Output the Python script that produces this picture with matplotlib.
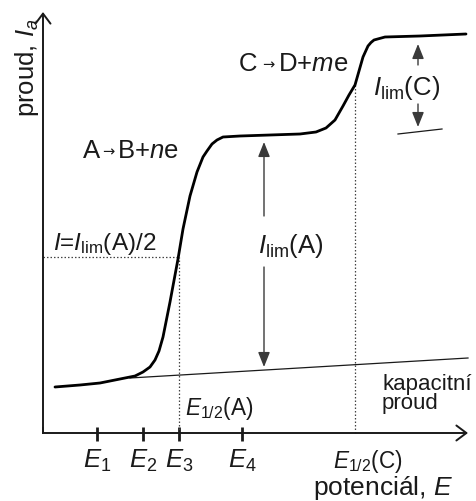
import matplotlib
matplotlib.use("Agg")
import matplotlib.pyplot as plt

plt.rcParams['font.family'] = ['Liberation Sans', 'DejaVu Sans']
plt.rcParams['mathtext.fontset'] = 'custom'
plt.rcParams['mathtext.rm'] = 'Liberation Sans'
plt.rcParams['mathtext.it'] = 'Liberation Sans:italic'
plt.rcParams['mathtext.bf'] = 'Liberation Sans:bold'

# ---- data (potential E, current I; arbitrary units) ----
curve_E = [1.2, 3.7, 5.7, 7.7, 9.2, 10.0, 10.7, 11.2, 11.6, 12.0, 12.4, 12.7,
           13.5, 14.0, 14.7, 15.4, 16.0, 16.4, 16.9, 17.4, 18.0, 19.7, 22.7,
           25.7, 27.3, 28.3, 29.2, 30.0, 30.6, 31.2, 31.6, 32.0, 32.5, 32.8,
           33.1, 34.2, 37.7, 42.3]
curve_I = [4.6, 4.8, 5.0, 5.4, 5.7, 6.1, 6.6, 7.3, 8.2, 9.6, 11.6, 13.1,
           17.4, 20.4, 23.7, 26.1, 27.6, 28.2, 28.9, 29.3, 29.6, 29.7, 29.8,
           29.9, 30.1, 30.5, 31.3, 32.7, 33.8, 34.8, 36.2, 37.6, 38.7, 39.05,
           39.3, 39.6, 39.7, 39.9]

baseline_E = [8.7, 42.5]
baseline_I = [5.5, 7.5]

tick_E = [5.4, 10.0, 13.6, 19.9]
tick_labels = ['$E_1$', '$E_2$', '$E_3$', '$E_4$']

E_half_A = 13.6
I_half_A = 17.6
E_half_C = 31.2
I_half_C = 34.8

E_lim_A = 22.1
I_lim_A = (6.6, 29.1)
E_lim_C = 37.5
I_lim_C = (30.6, 38.9)

x_end = 42.5
y_end = 42.1

# ---- figure ----
fig = plt.figure(figsize=(4.76, 5.02), dpi=100)
ax = fig.add_axes([0, 0, 1, 1])
ax.set_xlim(-4.3, 43.3)
ax.set_ylim(-6.8, 43.4)
ax.axis('off')

ink = '#1a1a1a'

# axes with open arrowheads
ax.annotate('', xy=(x_end, 0), xytext=(0, 0),
            arrowprops=dict(arrowstyle='->,head_length=0.6,head_width=0.45',
                            lw=1.4, color=ink, shrinkA=0, shrinkB=0, mutation_scale=12))
ax.annotate('', xy=(0, y_end), xytext=(0, 0),
            arrowprops=dict(arrowstyle='->,head_length=0.6,head_width=0.45',
                            lw=1.4, color=ink, shrinkA=0, shrinkB=0, mutation_scale=12))
ax.plot([0, 0], [0, 0.5], color=ink, lw=1.4, solid_capstyle='projecting')

# ticks
for e, lab in zip(tick_E, tick_labels):
    ax.plot([e, e], [-0.8, 0.6], color=ink, lw=2.0, solid_capstyle='butt')
    ax.text(e, -3.4, lab, ha='center', va='baseline', fontsize=18.5, color=ink)

# dotted guide lines
dot = dict(color='#444444', lw=0.9, linestyle=(0, (1.2, 1.6)))
ax.plot([0, E_half_A], [I_half_A, I_half_A], **dot)
ax.plot([E_half_A, E_half_A], [0, I_half_A], **dot)
ax.plot([E_half_C, E_half_C], [0, I_half_C], **dot)

# capacitive baseline
ax.plot(baseline_E, baseline_I, color=ink, lw=0.9)

# main polarographic curve
ax.plot(curve_E, curve_I, color='black', lw=2.0, solid_joinstyle='round',
        solid_capstyle='round')

# limiting current arrows
arr = dict(arrowstyle='-|>,head_length=0.75,head_width=0.3', lw=1.0,
           color='#3a3a3a', shrinkA=0, shrinkB=0, mutation_scale=12)
ax.annotate('', xy=(E_lim_A, I_lim_A[1]), xytext=(E_lim_A, 21.7), arrowprops=arr)
ax.annotate('', xy=(E_lim_A, I_lim_A[0]), xytext=(E_lim_A, 16.6), arrowprops=arr)
ax.annotate('', xy=(E_lim_C, I_lim_C[1]), xytext=(E_lim_C, 36.8), arrowprops=arr)
ax.annotate('', xy=(E_lim_C, I_lim_C[0]), xytext=(E_lim_C, 32.9), arrowprops=arr)
ax.plot([35.5, 39.9], [29.9, 30.4], color=ink, lw=0.9)

# labels
fs = 18.5
renderer = fig.canvas.get_renderer()


def chain(x, y, parts):
    """Place text pieces one after another on a common baseline."""
    x_disp, y_disp = ax.transData.transform((x, y))
    for s, size, gap, dy, fam in parts:
        xd, yd = ax.transData.inverted().transform((x_disp + gap, y_disp + dy))
        t = ax.text(xd, yd, s, ha='left', va='baseline', fontsize=size,
                    color=ink, family=fam)
        bb = t.get_window_extent(renderer)
        x_disp = bb.x1


chain(4.0, 27.6, [('A', fs, 0, 0, ['Liberation Sans']),
                  ('\u2192', 10.5, 2, 1.5, ['DejaVu Sans']),
                  ('B+$n$e', fs, 3, 0, ['Liberation Sans'])])
chain(19.6, 36.3, [('C', fs, 0, 0, ['Liberation Sans']),
                   ('\u2192', 10.5, 5, 1.5, ['DejaVu Sans']),
                   ('D+$m$e', fs, 3, 0, ['Liberation Sans'])])

ax.text(-1.6, 36.6, 'proud, $I_a$', rotation=90, ha='center', va='center',
        fontsize=fs, color=ink)
ax.text(33.0, 33.9, '$I_{\\mathrm{lim}}$(C)', ha='left', va='baseline', fontsize=fs, color=ink)
ax.text(21.5, 18.1, '$I_{\\mathrm{lim}}$(A)', ha='left', va='baseline', fontsize=fs, color=ink)
ax.text(1.0, 18.4, '$I$=$I_{\\mathrm{lim}}$(A)/2', ha='left', va='baseline', fontsize=17.5, color=ink)
ax.text(14.2, 1.9, '$E_{1/2}$(A)', ha='left', va='baseline', fontsize=16.3, color=ink)
ax.text(33.9, 2.5, 'kapacitní\nproud', ha='left', va='baseline', fontsize=16,
        linespacing=0.86, color=ink)
ax.text(29.0, -3.4, '$E_{1/2}$(C)', ha='left', va='baseline', fontsize=16.3, color=ink)
ax.text(41.0, -6.1, 'potenciál, $E$', ha='right', va='baseline', fontsize=19, color=ink)

fig.savefig('out.png', dpi=100)
